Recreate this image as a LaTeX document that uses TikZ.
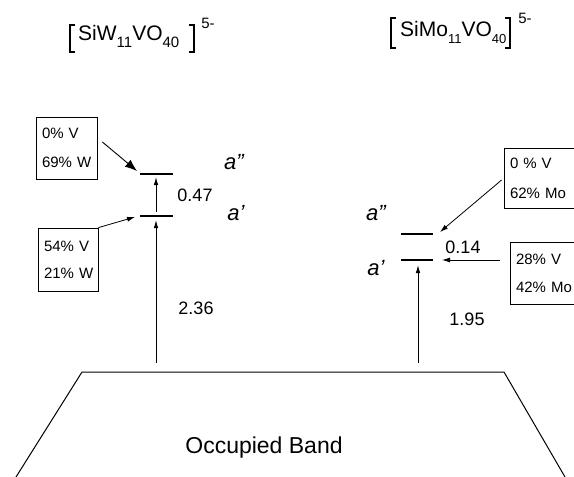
\documentclass[tikz,border=0pt]{standalone}
\usepackage{fontspec}
\setmainfont{Liberation Sans}
\usetikzlibrary{arrows.meta}
\begin{document}
\begin{tikzpicture}[x=1pt,y=-1pt,
  every node/.style={inner sep=0pt},
  pbox/.style={draw, line width=0.8pt, align=left, inner xsep=6pt, inner ysep=0pt},
  level/.style={line width=1.4pt},
  levelhi/.style={line width=2.2pt},
  arr/.style={line width=0.8pt, -{Latex[length=8pt,width=5pt]}},
  bigarr/.style={line width=0.9pt, -{Latex[length=12pt,width=9pt]}},
  varr/.style={line width=0.9pt, -{Latex[length=8pt,width=4.5pt]}},
  brk/.style={line width=1.3pt},
  lab/.style={font=\fontsize{22}{22}\selectfont\itshape},
  num/.style={font=\fontsize{18}{18}\selectfont},
  ttl/.style={font=\fontsize{21}{21}\selectfont, anchor=base west},
  sup/.style={font=\fontsize{15}{15}\selectfont}
]
\useasboundingbox (0,0) rectangle (574,477);

% titles
\node[ttl] (tL) at (78,40) {SiW\raisebox{-7pt}{\fontsize{15}{15}\selectfont 11}VO\raisebox{-7pt}{\fontsize{15}{15}\selectfont 40}};
\draw[brk] (75,25) -- (70,25) -- (70,52) -- (75,52);
\draw[brk] (189,25) -- (194,25) -- (194,52) -- (189,52);
\node[sup] (sL) at (208,23) {5-};

\node[ttl] (tR) at (400,36) {SiMo\raisebox{-7pt}{\fontsize{13}{13}\selectfont 11}VO\raisebox{-7pt}{\fontsize{13}{13}\selectfont 40}};
\draw[brk] (396,18) -- (391,18) -- (391,48) -- (396,48);
\draw[brk] (505,18) -- (510,18) -- (510,48) -- (505,48);
\node[sup] (sR) at (525,18) {5-};

% left boxes
\node[pbox, minimum width=61pt, minimum height=62pt, text width=49pt,
      font=\fontsize{15}{29}\selectfont] (L1) at (66.5,148) {0\%~V\\69\%~W};
\node[pbox, minimum width=60pt, minimum height=63pt, text width=48pt,
      font=\fontsize{15}{27}\selectfont] (L2) at (68,259.5) {54\%~V\\21\%~W};
% right boxes
\node[pbox, minimum width=70pt, minimum height=60pt, text width=58pt,
      font=\fontsize{15}{30}\selectfont] (R1) at (539,178) {0~\%~V\\62\%~Mo};
\node[pbox, minimum width=64pt, minimum height=62pt, text width=52pt,
      font=\fontsize{15}{28}\selectfont] (R2) at (542,273) {28\%~V\\42\%~Mo};

% left levels
\coordinate (LA2w) at (140,174); \coordinate (LA2e) at (173,174);
\coordinate (LA1w) at (140,216); \coordinate (LA1e) at (173,216);
\draw[levelhi] (LA2w) -- (LA2e);
\draw[level] (LA1w) -- (LA1e);
\coordinate (LsA) at (156,212); \coordinate (LsB) at (156,177);
\draw[varr] (LsA) -- (LsB);
\coordinate (LbA) at (156,363); \coordinate (LbB) at (156,220);
\draw[varr] (LbA) -- (LbB);
\coordinate (Lt1) at (137,171);
\draw[bigarr] ([shift={(5,-6)}]L1.east) -- (Lt1);
\coordinate (Lt2) at (135,217);
\draw[arr] (L2.north east) -- (Lt2);

\node[lab] (aL2) at (234,162) {a"};
\node[lab] (aL1) at (236,213) {a'};
\node[num] (nL1) at (195,195) {0.47};
\node[num] (nL2) at (196,308) {2.36};

% right levels
\coordinate (RA2w) at (401,234); \coordinate (RA2e) at (433,234);
\coordinate (RA1w) at (401,260); \coordinate (RA1e) at (433,260);
\draw[levelhi] (RA2w) -- (RA2e);
\draw[level] (RA1w) -- (RA1e);
\coordinate (RbA) at (418,363); \coordinate (RbB) at (418,265);
\draw[varr] (RbA) -- (RbB);
\coordinate (Rt1) at (440,232);
\draw[arr] ([shift={(-2,2)}]R1.west) -- (Rt1);
\coordinate (Rt2) at (442,260);
\draw[arr] ([shift={(-10,-13)}]R2.west) -- (Rt2);

\node[lab] (aR2) at (376,213) {a"};
\node[lab] (aR1) at (376,268) {a'};
\node[num] (nR1) at (463,247) {0.14};
\node[num] (nR2) at (467,319) {1.95};

% band
\draw[line width=1pt] (16,477) -- (82,372) -- (504,372) -- (565,477);
\node[font=\fontsize{23}{23}\selectfont] (band) at (264,448) {Occupied Band};
\end{tikzpicture}
\end{document}
